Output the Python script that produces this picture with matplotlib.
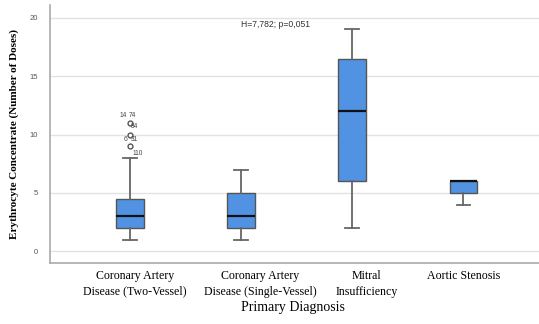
import numpy as np
import matplotlib
matplotlib.use("Agg")
import matplotlib.pyplot as plt

# box statistics
categories = ["Coronary Artery\nDisease (Two-Vessel)",
              "Coronary Artery\nDisease (Single-Vessel)",
              "Mitral\nInsufficiency",
              "Aortic Stenosis"]
whis_lo = [1, 1, 2, 4]
q1 = [2, 2, 6, 5]
median = [3, 3, 12, 6]
q3 = [4.5, 5, 16.5, 6]
whis_hi = [8, 7, 19, 6]
fliers = [[11, 10, 9], [], [], []]

# outlier case labels: (value, label, dx px, dy px)
outlier_labels = [(11, "14", -7, 7), (11, "74", 2, 7), (11, "84", 4.5, -4),
                  (10, "6", -5, -5), (10, "31", 4, -5), (9, "110", 7.5, -7)]

stats_text = "H=7,782; p=0,051"
yticks = [0, 5, 10, 15, 20]

BLUE = "#5192e3"
GRID = "#e2e2e2"

fig = plt.figure(figsize=(5.39, 3.24), dpi=100)
ax = fig.add_axes([0.093, 0.188, 0.907, 0.797])

stats = []
for i in range(len(categories)):
    stats.append(dict(whislo=whis_lo[i], q1=q1[i], med=median[i], q3=q3[i],
                      whishi=whis_hi[i], fliers=fliers[i]))

pos = np.arange(len(categories))
ax.bxp(stats, positions=pos, widths=0.25, patch_artist=True,
       boxprops=dict(facecolor=BLUE, edgecolor="#555555", linewidth=1.0),
       medianprops=dict(color="#111111", linewidth=1.6),
       whiskerprops=dict(color="#666666", linewidth=1.3),
       capprops=dict(color="#666666", linewidth=1.3),
       flierprops=dict(marker="o", markersize=3.5, markerfacecolor="white",
                       markeredgecolor="#555555", markeredgewidth=1.0),
       zorder=3)

for val, lab, dx, dy in outlier_labels:
    ax.annotate(lab, (pos[0], val), xytext=(dx, dy), textcoords="offset pixels",
                ha="center", va="center", fontsize=4.8, color="#444444",
                family="Liberation Sans")

ax.text(1.0, 19.4, stats_text, ha="left", va="center", fontsize=6.2,
        color="#333333", family="Liberation Sans")

ax.set_xlim(-0.72, 3.68)
ax.set_ylim(-1.0, 21.1)
ax.set_yticks(yticks)
ax.set_yticklabels([str(t) for t in yticks], fontsize=5.5, color="#555555",
                   family="Liberation Sans")
ax.set_xticks(pos)
ax.set_xticklabels([])
# SPSS places the category labels slightly right of the boxes
label_shift = [5, 19, 14, 0]
for p, lab, dx in zip(pos, categories, label_shift):
    ax.annotate(lab, (p, 0), xycoords=("data", "axes fraction"),
                xytext=(dx, -7), textcoords="offset pixels",
                ha="center", va="top", fontsize=8.6,
                family="Liberation Serif", linespacing=1.4)
ax.tick_params(axis="both", length=0)
ax.tick_params(axis="y", pad=9)
ax.yaxis.grid(True, color=GRID, linewidth=1.0, zorder=0)
ax.set_axisbelow(True)
for s in ["top", "right"]:
    ax.spines[s].set_visible(False)
for s in ["left", "bottom"]:
    ax.spines[s].set_color("#aaaaaa")
    ax.spines[s].set_linewidth(1.2)

fig.text(293 / 539, 1 - 308 / 324, "Primary Diagnosis", ha="center",
         va="center", fontsize=10, family="Liberation Serif")
ax.set_ylabel("Erythrocyte Concentrate (Number of Doses)", fontsize=8,
              family="Liberation Serif", fontweight="bold", labelpad=7)

fig.savefig("out.png", dpi=100)
